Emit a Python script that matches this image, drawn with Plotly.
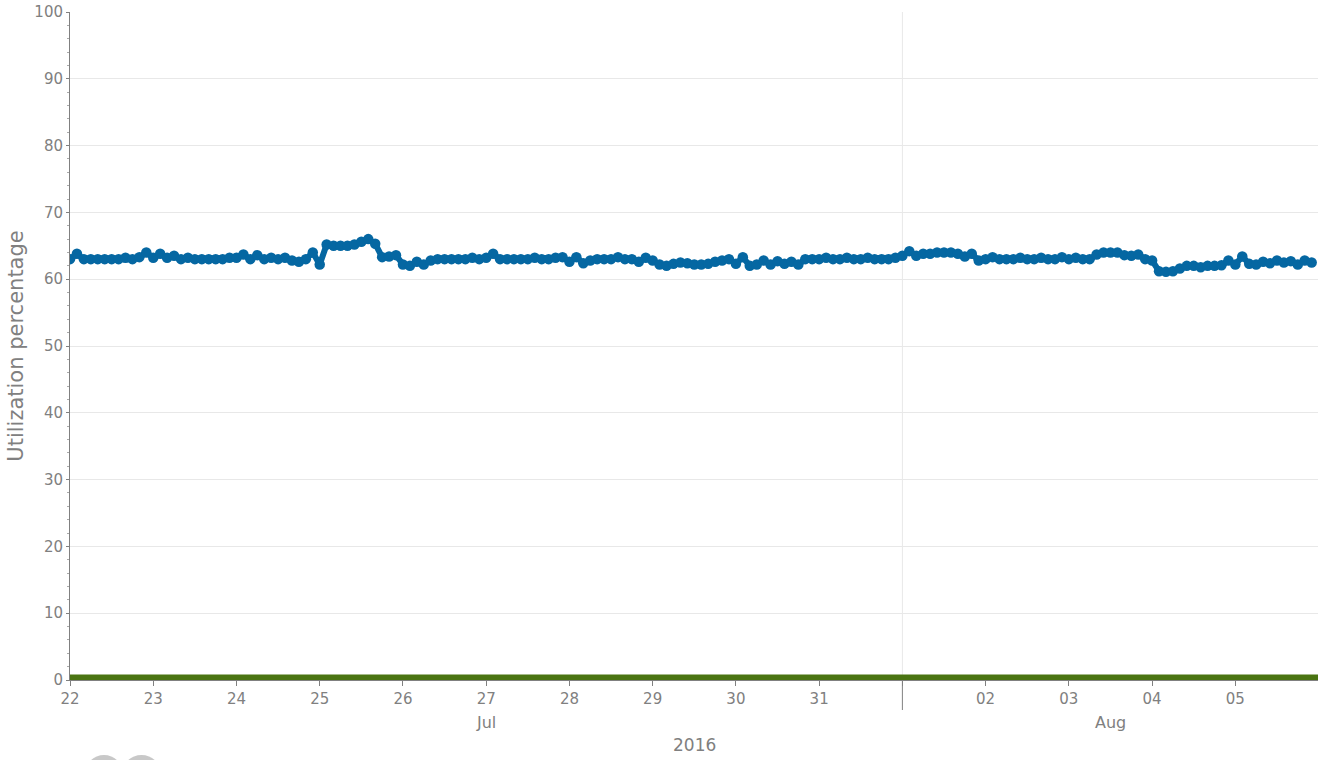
import pandas as pd
import plotly.graph_objects as go

# Utilization values every 2 hours, one list per day (Jul 22 .. Aug 5, 2016)
day_values = {
    "2016-07-22": [63, 63.8, 63, 63, 63, 63, 63, 63, 63.2, 63, 63.3, 64],
    "2016-07-23": [63.2, 63.8, 63.2, 63.5, 63, 63.2, 63, 63, 63, 63, 63, 63.2],
    "2016-07-24": [63.2, 63.7, 63, 63.6, 63, 63.2, 63, 63.2, 62.8, 62.6, 63, 64],
    "2016-07-25": [62.2, 65.2, 65, 65, 65, 65.2, 65.6, 66, 65.3, 63.3, 63.4, 63.6],
    "2016-07-26": [62.2, 62, 62.6, 62.2, 62.8, 63, 63, 63, 63, 63, 63.2, 63],
    "2016-07-27": [63.2, 63.8, 63, 63, 63, 63, 63, 63.2, 63, 63, 63.2, 63.3],
    "2016-07-28": [62.6, 63.3, 62.4, 62.8, 63, 63, 63, 63.3, 63, 63, 62.6, 63.2],
    "2016-07-29": [62.8, 62.2, 62, 62.3, 62.5, 62.4, 62.2, 62.2, 62.3, 62.6, 62.8, 63],
    "2016-07-30": [62.3, 63.3, 62, 62.2, 62.8, 62.2, 62.7, 62.3, 62.6, 62.2, 63, 63],
    "2016-07-31": [63, 63.2, 63, 63, 63.2, 63, 63, 63.2, 63, 63, 63, 63.2],
    "2016-08-01": [63.5, 64.2, 63.5, 63.8, 63.8, 64, 64, 64, 63.8, 63.4, 63.8, 62.8],
    "2016-08-02": [63, 63.3, 63, 63, 63, 63.2, 63, 63, 63.2, 63, 63, 63.3],
    "2016-08-03": [63, 63.2, 63, 63, 63.7, 64, 64, 64, 63.6, 63.5, 63.7, 63],
    "2016-08-04": [62.8, 61.2, 61.1, 61.2, 61.6, 62, 62, 61.8, 62, 62, 62.1, 62.8],
    "2016-08-05": [62.2, 63.4, 62.3, 62.2, 62.6, 62.4, 62.8, 62.5, 62.7, 62.2, 62.8, 62.5],
}
tick_dates = ["2016-07-22", "2016-07-23", "2016-07-24", "2016-07-25", "2016-07-26",
              "2016-07-27", "2016-07-28", "2016-07-29", "2016-07-30", "2016-07-31",
              "2016-08-01", "2016-08-02", "2016-08-03", "2016-08-04", "2016-08-05"]
tick_labels = ["22", "23", "24", "25", "26", "27", "28", "29", "30", "31",
               "", "02", "03", "04", "05"]
month_labels = ["Jul", "Aug"]
month_positions = ["2016-07-27", "2016-08-03 12:00"]
year_label = "2016"
year_position = "2016-07-29 12:00"
baseline_values = [0, 0]
baseline_dates = ["2016-07-22", "2016-08-06"]

times, values = [], []
for d, vals in day_values.items():
    start = pd.Timestamp(d)
    for i, v in enumerate(vals):
        times.append(start + pd.Timedelta(hours=2 * i))
        values.append(v)

grey = "#808080"
PH = 668  # plot height in px
fig = go.Figure()
fig.add_trace(go.Scatter(
    x=baseline_dates, y=baseline_values, mode="lines",
    line=dict(color="#4a7412", width=11), hoverinfo="skip", showlegend=False))
fig.add_trace(go.Scatter(
    x=times, y=values, mode="lines+markers",
    line=dict(color="#0567a2", width=6),
    marker=dict(color="#0567a2", size=10.5),
    showlegend=False))

fig.update_layout(
    width=1321, height=760,
    margin=dict(l=70, r=3, t=12, b=80),
    plot_bgcolor="white", paper_bgcolor="white",
    font=dict(family="DejaVu Sans", color=grey, size=15),
    xaxis=dict(
        range=["2016-07-22", "2016-08-05 23:50"],
        tickvals=tick_dates, ticktext=tick_labels,
        ticks="outside", ticklen=5, tickcolor=grey,
        showgrid=False, showline=True, linecolor=grey, linewidth=1,
        zeroline=False, tickfont=dict(size=15, color=grey),
    ),
    yaxis=dict(
        range=[0, 100], dtick=10,
        ticks="outside", ticklen=3, tickcolor=grey,
        showgrid=True, gridcolor="#e8e8e8",
        showline=True, linecolor=grey, linewidth=1,
        zeroline=False, tickfont=dict(size=15, color=grey),
        ticklabeloverflow="allow",
        minor=dict(ticks="outside", ticklen=2, dtick=2, tickcolor="#aaaaaa", showgrid=False),
        title=dict(text="Utilization percentage", font=dict(size=21, color=grey), standoff=5),
    ),
)

# Aug 1 boundary: light vertical gridline and long tick
fig.add_shape(type="line", xref="x", yref="paper", x0="2016-08-01", x1="2016-08-01",
              y0=0, y1=1, line=dict(color="#e8e8e8", width=1), layer="below")
fig.add_shape(type="line", xref="x", yref="paper", x0="2016-08-01", x1="2016-08-01",
              y0=0, y1=-30 / PH, line=dict(color=grey, width=1))

for txt, pos in zip(month_labels, month_positions):
    fig.add_annotation(x=pos, xref="x", y=-42 / PH, yref="paper", yanchor="middle",
                       text=txt, showarrow=False, font=dict(size=16, color=grey))
fig.add_annotation(x=year_position, xref="x", y=-65 / PH, yref="paper", yanchor="middle",
                   text=year_label, showarrow=False, font=dict(size=17, color=grey))

# partial grey logo circles at bottom-left
fig.add_shape(type="circle", xref="paper", yref="paper",
              x0=(85 - 70) / 1248, x1=(123 - 70) / 1248, y0=-75 / PH, y1=-113 / PH,
              fillcolor="#c8c8c8", line=dict(width=0))
fig.add_shape(type="circle", xref="paper", yref="paper",
              x0=(122 - 70) / 1248, x1=(161 - 70) / 1248, y0=-75 / PH, y1=-113 / PH,
              fillcolor="#c8c8c8", line=dict(width=0))

fig.write_html(
    "out.html",
    config={"displayModeBar": False},
    post_script="document.body.style.margin='0';document.body.style.overflow='hidden';",
)
